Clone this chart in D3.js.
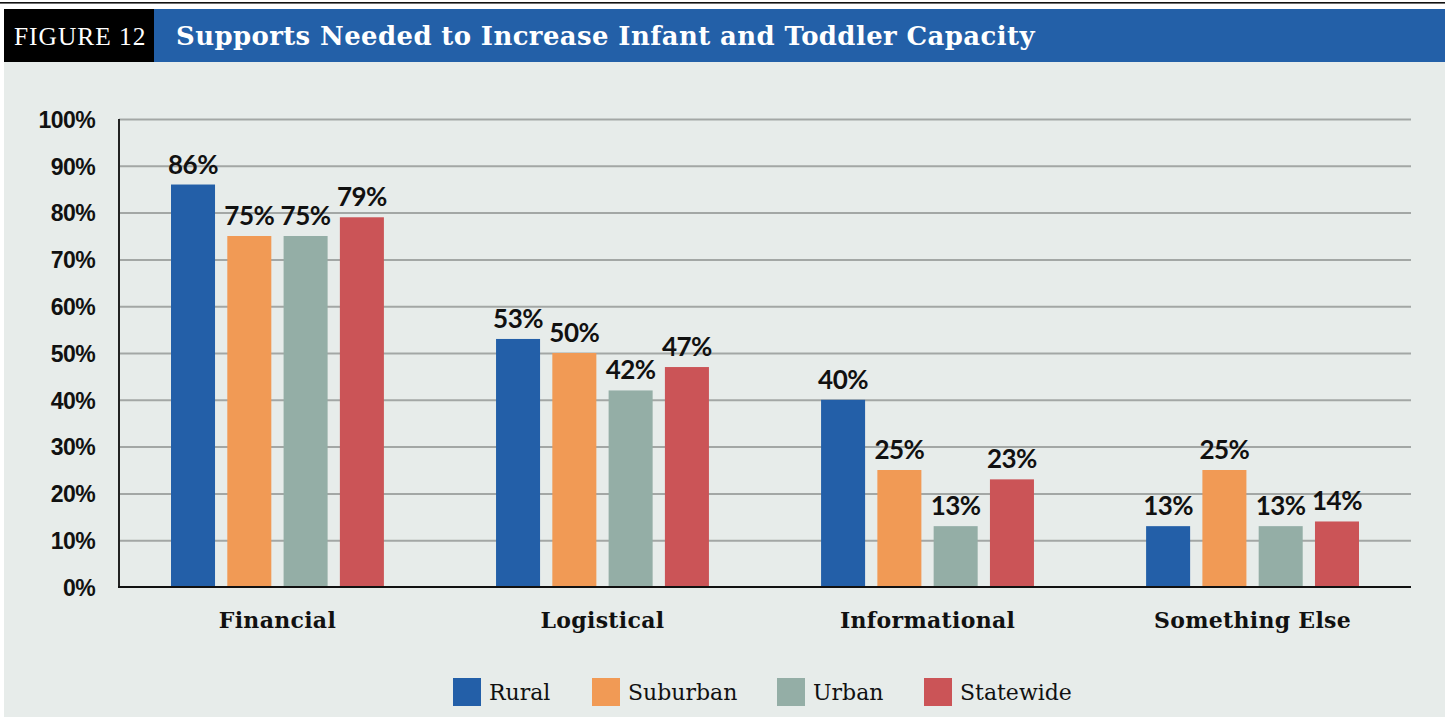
<!DOCTYPE html>
<html>
<head>
<meta charset="utf-8">
<script src="https://cdn.jsdelivr.net/npm/d3@7"></script>
<style>
  html, body { margin: 0; padding: 0; background: #ffffff; }
  svg { display: block; }
</style>
</head>
<body>
<svg id="chart" width="1445" height="719"></svg>
<script>
// Share of respondents naming each kind of support, by region type
const categories = ["Financial", "Logistical", "Informational", "Something Else"];
const seriesNames = ["Rural", "Suburban", "Urban", "Statewide"];
const rural = [86, 53, 40, 13];
const suburban = [75, 50, 25, 25];
const urban = [75, 42, 13, 13];
const statewide = [79, 47, 23, 14];
const yTicks = [0, 10, 20, 30, 40, 50, 60, 70, 80, 90, 100];

const seriesValues = [rural, suburban, urban, statewide];
const colors = ["#235fa8", "#f19a55", "#94aea6", "#cb5457"];

const W = 1445, H = 719;
const svg = d3.select("#chart");

const slab = "'DejaVu Serif', serif";
const sans = "'Liberation Sans', Arial, sans-serif";
const humanist = "Lato, 'Open Sans', sans-serif";

// frame: top rule, panel and title bar
svg.append("rect").attr("x", 0).attr("y", 0).attr("width", W).attr("height", H).attr("fill", "#ffffff");
svg.append("rect").attr("x", 0).attr("y", 2).attr("width", W).attr("height", 1.6).attr("fill", "#111");
svg.append("rect").attr("x", 4).attr("y", 62).attr("width", W - 4).attr("height", 655).attr("fill", "#e7ecea");
svg.append("rect").attr("x", 4).attr("y", 9).attr("width", W - 4).attr("height", 53).attr("fill", "#2360a8");
svg.append("rect").attr("x", 4).attr("y", 9).attr("width", 150).attr("height", 53).attr("fill", "#000");

// fit a text element to a target width by scaling its font size
function fitWidth(sel, target) {
  const node = sel.node();
  const fs = parseFloat(sel.attr("font-size"));
  const w = node.getComputedTextLength();
  if (w > 0) sel.attr("font-size", (fs * target / w).toFixed(2));
}

const fig = svg.append("text").attr("x", 14).attr("y", 45)
  .attr("font-family", "'Liberation Serif', 'DejaVu Serif', serif")
  .attr("font-size", 24).attr("fill", "#fff").attr("letter-spacing", 1)
  .text("FIGURE 12");
fitWidth(fig, 133);

const title = svg.append("text").attr("x", 176).attr("y", 45)
  .attr("font-family", slab).attr("font-weight", "bold")
  .attr("font-size", 24).attr("fill", "#fff").attr("letter-spacing", 0.4)
  .text("Supports Needed to Increase Infant and Toddler Capacity");
fitWidth(title, 861);

// scales
const margin = { left: 119, right: 1411, top: 119, bottom: 587 };
const x0 = d3.scaleBand().domain(categories)
  .range([margin.left, margin.right]).paddingInner(0.345).paddingOuter(0.16);
const x1 = d3.scaleBand().domain(seriesNames)
  .range([0, x0.bandwidth()]).paddingInner(0.218).paddingOuter(0);
const y = d3.scaleLinear().domain([0, 100]).range([margin.bottom, margin.top]);

// gridlines
const grid = svg.append("g")
  .attr("transform", `translate(${margin.left},0)`)
  .call(d3.axisLeft(y).tickValues(yTicks.slice(1)).tickSize(-(margin.right - margin.left)).tickFormat(""));
grid.select(".domain").remove();
grid.selectAll(".tick line").attr("stroke", "#a3a7a5").attr("stroke-width", 2);

// y axis labels
const yAxis = svg.append("g")
  .attr("transform", `translate(${margin.left},0)`)
  .call(d3.axisLeft(y).tickValues(yTicks).tickSize(0).tickPadding(24).tickFormat(d => d + "%"));
yAxis.select(".domain").remove();
yAxis.selectAll(".tick text")
  .attr("font-family", sans).attr("font-weight", "bold").attr("font-size", 23)
  .attr("fill", "#111").attr("letter-spacing", -0.6).attr("dy", "0.36em");

// bars
const groups = svg.append("g").selectAll("g")
  .data(categories).join("g")
  .attr("transform", d => `translate(${x0(d)},0)`);

groups.selectAll("rect")
  .data((c, ci) => seriesNames.map((s, si) => ({ s, si, v: seriesValues[si][ci] })))
  .join("rect")
  .attr("x", d => x1(d.s))
  .attr("y", d => y(d.v))
  .attr("width", x1.bandwidth())
  .attr("height", d => y(0) - y(d.v))
  .attr("fill", d => colors[d.si]);

// value labels
groups.selectAll("text.val")
  .data((c, ci) => seriesNames.map((s, si) => ({ s, si, v: seriesValues[si][ci] })))
  .join("text").attr("class", "val")
  .attr("x", d => x1(d.s) + x1.bandwidth() / 2)
  .attr("y", d => y(d.v) - 11)
  .attr("text-anchor", "middle")
  .attr("font-family", humanist).attr("font-weight", "bold").attr("font-size", 26)
  .attr("fill", "#111").attr("letter-spacing", -0.5)
  .text(d => d.v + "%");

// axis lines
svg.append("line").attr("x1", margin.left).attr("x2", margin.left)
  .attr("y1", margin.top).attr("y2", margin.bottom + 1)
  .attr("stroke", "#222").attr("stroke-width", 2);
svg.append("line").attr("x1", margin.left - 1).attr("x2", margin.right)
  .attr("y1", margin.bottom).attr("y2", margin.bottom)
  .attr("stroke", "#111").attr("stroke-width", 2);

// category labels
svg.append("g").selectAll("text")
  .data(categories).join("text")
  .attr("x", d => x0(d) + x0.bandwidth() / 2)
  .attr("y", 628)
  .attr("text-anchor", "middle")
  .attr("font-family", slab).attr("font-weight", "bold").attr("font-size", 22)
  .attr("fill", "#111").attr("letter-spacing", 0.3)
  .text(d => d);

// legend
const legendX = [453, 592, 777, 924];
const legend = svg.append("g").selectAll("g")
  .data(seriesNames).join("g")
  .attr("transform", (d, i) => `translate(${legendX[i]},678)`);
legend.append("rect").attr("width", 28).attr("height", 28)
  .attr("fill", (d, i) => colors[i]);
legend.append("text").attr("x", 36).attr("y", 22)
  .attr("font-family", slab).attr("font-size", 22).attr("fill", "#111")
  .text(d => d);
</script>
</body>
</html>
